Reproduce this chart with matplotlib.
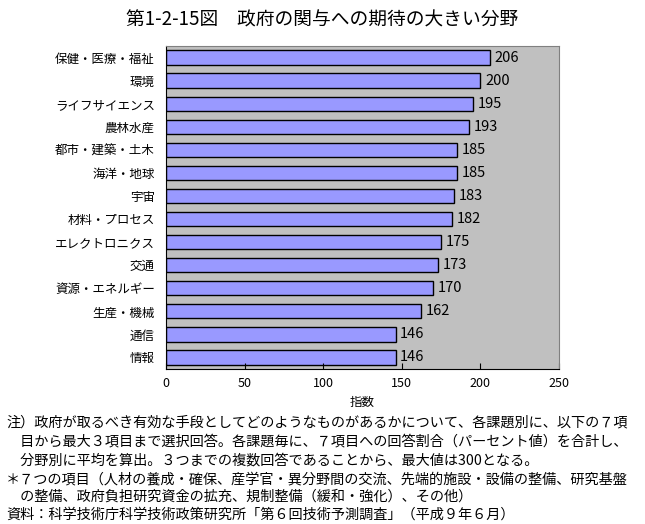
import numpy as np
import matplotlib
matplotlib.use("Agg")
import matplotlib.pyplot as plt

plt.rcParams['font.family'] = ['Noto Sans CJK JP', 'DejaVu Sans']

# data
fields = ["保健・医療・福祉", "環境", "ライフサイエンス", "農林水産", "都市・建築・土木",
          "海洋・地球", "宇宙", "材料・プロセス", "エレクトロニクス", "交通",
          "資源・エネルギー", "生産・機械", "通信", "情報"]
index_vals = [206, 200, 195, 193, 185, 185, 183, 182, 175, 173, 170, 162, 146, 146]
x_ticks = [0, 50, 100, 150, 200, 250]

title = "第1-2-15図　政府の関与への期待の大きい分野"
notes = [
    "注）政府が取るべき有効な手段としてどのようなものがあるかについて、各課題別に、以下の７項",
    "　目から最大３項目まで選択回答。各課題毎に、７項目への回答割合（パーセント値）を合計し、",
    "　分野別に平均を算出。３つまでの複数回答であることから、最大値は300となる。",
    "＊７つの項目（人材の養成・確保、産学官・異分野間の交流、先端的施設・設備の整備、研究基盤",
    "　の整備、政府負担研究資金の拡充、規制整備（緩和・強化）、その他）",
    "資料：科学技術庁科学技術政策研究所「第６回技術予測調査」（平成９年６月）",
]

fig = plt.figure(figsize=(6.45, 5.24), dpi=100)
ax = fig.add_axes([166/645, 1 - 369/524, (559 - 166)/645, (369 - 46)/524])
ax.set_facecolor("#c0c0c0")

y = np.arange(len(fields))
ax.barh(y, index_vals, height=0.62, color="#9999ff", edgecolor="black", linewidth=1)
for yi, v in zip(y, index_vals):
    ax.text(v + 3, yi, str(v), va="center", ha="left", fontsize=10.5)

ax.set_ylim(len(fields) - 0.5, -0.5)
ax.set_xlim(0, 250)
ax.set_yticks(y)
ax.set_yticklabels(fields, fontsize=9)
ax.set_xticks(x_ticks)
ax.set_xticklabels([str(t) for t in x_ticks], fontsize=9)
ax.tick_params(axis="y", length=0, pad=8)
ax.tick_params(axis="x", direction="in", length=4, pad=6)
for s in ["top", "right"]:
    ax.spines[s].set_color("#808080")
ax.spines["left"].set_color("black")
ax.spines["bottom"].set_color("black")

fig.text((166 + 559) / 2 / 645, 1 - 402/524, "指数", ha="center", va="center", fontsize=9)
fig.text(0.5, 1 - 20/524, title, ha="center", va="center", fontsize=13.5)

note_y = [422, 441, 460, 479, 497, 515]
for ny, line in zip(note_y, notes):
    fig.text(6/645, 1 - ny/524, line, ha="left", va="center", fontsize=10.2)

fig.savefig("out.png", dpi=100)
